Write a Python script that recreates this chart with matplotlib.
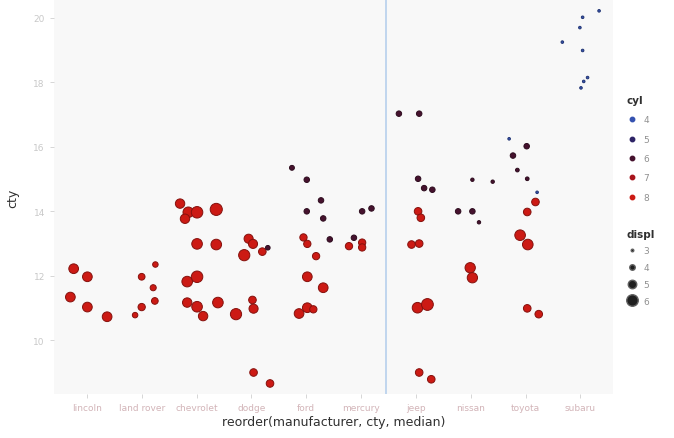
import numpy as np
import matplotlib
matplotlib.use('Agg')
import matplotlib.pyplot as plt
from matplotlib.colors import LinearSegmentedColormap, to_rgb
from matplotlib.lines import Line2D

# Manufacturers, ordered by median cty
makers = ['lincoln', 'land rover', 'chevrolet', 'dodge', 'ford',
          'mercury', 'jeep', 'nissan', 'toyota', 'subaru']

# Points: manufacturer, jitter offset, cty, cyl, displ
maker = (['lincoln'] * 5 + ['land rover'] * 6 + ['chevrolet'] * 13
         + ['dodge'] * 10 + ['ford'] * 14 + ['mercury'] * 6 + ['jeep'] * 13
         + ['nissan'] * 7 + ['toyota'] * 12 + ['subaru'] * 8)
jit = [-0.24, 0.01, -0.30, 0.01, 0.37,
       0.25, 0.00, 0.21, 0.24, 0.00, -0.12,
       -0.30, -0.15, -0.21, 0.01, 0.36, 0.01, 0.36, -0.17, 0.01, -0.17, 0.01, 0.12, 0.39,
       -0.28, -0.05, 0.03, -0.13, 0.20, 0.30, 0.02, 0.04, 0.04, 0.34,
       -0.26, 0.01, 0.27, 0.01, 0.31, 0.43, -0.05, 0.02, 0.18, 0.02, 0.31, -0.13, 0.02, 0.13,
       0.02, 0.19, -0.13, -0.22, 0.02, 0.02,
       -0.31, 0.06, 0.04, 0.15, 0.30, 0.04, 0.09, -0.08, 0.06, 0.03, 0.21, 0.06, 0.28,
       0.03, 0.40, -0.23, 0.03, 0.15, -0.01, 0.03,
       -0.30, 0.02, -0.23, -0.15, 0.03, 0.21, 0.18, 0.03, -0.10, 0.04, 0.03, 0.24,
       0.34, 0.04, -0.01, -0.33, 0.04, 0.13, 0.06, 0.01]
cty = [12.22, 11.97, 11.34, 11.03, 10.73,
       12.35, 11.97, 11.63, 11.22, 11.03, 10.78,
       14.24, 13.97, 13.77, 13.97, 14.06, 12.99, 12.97, 11.82, 11.97, 11.17, 11.04, 10.75, 11.17,
       10.81, 13.15, 12.99, 12.64, 12.75, 12.87, 11.25, 10.98, 9.00, 8.66,
       15.35, 14.98, 14.34, 14.00, 13.78, 13.13, 13.19, 12.99, 12.61, 11.97, 11.63, 10.83, 11.01, 10.96,
       14.00, 14.09, 13.18, 12.92, 13.03, 12.88,
       17.03, 17.03, 15.01, 14.72, 14.67, 14.00, 13.80, 12.97, 13.00, 11.01, 11.11, 9.00, 8.79,
       14.98, 14.92, 14.00, 14.00, 13.66, 12.25, 11.94,
       16.25, 16.02, 15.73, 15.28, 15.01, 14.59, 14.29, 13.98, 13.26, 12.97, 10.99, 10.81,
       20.22, 20.02, 19.70, 19.25, 18.99, 18.15, 18.03, 17.83]
cyl = [8] * 5 + [8] * 6 + [8] * 13 \
    + [8, 8, 8, 8, 8, 6, 8, 8, 8, 8] \
    + [6, 6, 6, 6, 6, 6, 8, 8, 8, 8, 8, 8, 8, 8] \
    + [6, 6, 6, 8, 8, 8] \
    + [6, 6, 6, 6, 6, 8, 8, 8, 8, 8, 8, 8, 8] \
    + [6, 6, 6, 6, 6, 8, 8] \
    + [4, 6, 6, 6, 6, 4, 8, 8, 8, 8, 8, 8] \
    + [4] * 8
displ = [5.4] * 5 \
    + [4.0, 4.4, 4.2, 4.4, 4.6, 4.0] \
    + [5.3, 5.7, 5.3, 6.0, 6.2, 5.7, 5.7, 5.7, 6.0, 5.3, 5.7, 5.3, 5.7] \
    + [5.9, 5.2, 5.2, 5.9, 4.7, 3.7, 4.7, 5.2, 4.7, 4.7] \
    + [3.8, 4.0, 4.0, 4.0, 4.0, 4.0, 4.6, 4.6, 4.6, 5.4, 5.4, 5.4, 5.4, 4.6] \
    + [4.0, 4.0, 4.0, 4.6, 4.6, 4.6] \
    + [4.0, 4.0, 4.0, 4.0, 4.0, 4.7, 4.7, 4.7, 4.7, 5.7, 6.1, 4.7, 4.7] \
    + [3.3, 3.3, 4.0, 4.0, 3.3, 5.6, 5.6] \
    + [2.7, 4.0, 4.0, 3.4, 3.4, 2.7, 4.7, 4.7, 5.7, 5.7, 4.7, 4.7] \
    + [2.5] * 8

split_at = 5.45  # vertical reference line between mercury and jeep

cyl_levels = [4, 5, 6, 7, 8]
displ_levels = [3, 4, 5, 6]

cmap = LinearSegmentedColormap.from_list(
    'cyl', [(0, '#3552b0'), (0.25, '#2e2466'), (0.5, '#45122e'),
            (0.75, '#a8141c'), (1, '#cc1a14')])


def cyl_color(c):
    return cmap((c - 4) / 4)


def marker_area(d):
    px = 2.5 + 3.0 * (d - 3)
    return (max(px, 2.6) * 0.72) ** 2


xpos = np.array([makers.index(m) for m in maker]) + np.array(jit)
faces = [cyl_color(c) for c in cyl]
edges = [tuple(v * 0.65 for v in to_rgb(f)) for f in faces]
sizes = [marker_area(d) for d in displ]

fig = plt.figure(figsize=(6.74, 4.39), dpi=100)
ax = fig.add_axes([0.08, 0.10, 0.83, 0.898])
ax.set_facecolor('#f8f8f8')

ax.axvline(split_at, color='#bcd3ee', lw=1.3, zorder=1)
ax.scatter(xpos, cty, s=sizes, c=faces, edgecolors=edges, linewidths=0.7, zorder=3)

ax.set_xlim(-0.6, len(makers) - 0.4)
ax.set_ylim(8.33, 20.56)
ax.set_xticks(range(len(makers)))
ax.set_xticklabels(makers, fontsize=6.5, color='#d2b4b8')
ax.set_yticks([10, 12, 14, 16, 18, 20])
ax.set_yticklabels(['10', '12', '14', '16', '18', '20'], fontsize=6.5, color='#c8c8c8')
ax.tick_params(axis='both', length=3, color='#d0d0d0', width=0.6)
ax.grid(False)
for sp in ax.spines.values():
    sp.set_visible(False)

ax.set_xlabel('reorder(manufacturer, cty, median)', fontsize=9, color='#303030', labelpad=2)
ax.set_ylabel('cty', fontsize=9, color='#303030', labelpad=10)

# legends
cyl_handles = [Line2D([], [], ls='none', marker='o', markersize=3.2,
                      markerfacecolor=cyl_color(c), markeredgecolor=cyl_color(c))
               for c in cyl_levels]
leg1 = fig.legend(cyl_handles, [str(c) for c in cyl_levels], title='cyl',
                  loc='upper left', bbox_to_anchor=(0.918, 0.80), frameon=False,
                  fontsize=6.5, title_fontsize=7.5, labelspacing=1.15,
                  handletextpad=0.6, handlelength=1.2, alignment='left')
leg1.get_title().set_fontweight('bold')
leg1.get_title().set_color('#303030')
for t in leg1.get_texts():
    t.set_color('#909090')

displ_handles = [Line2D([], [], ls='none', marker='o',
                        markersize=np.sqrt(marker_area(d)),
                        markerfacecolor='#202020', markeredgecolor='#606060')
                 for d in displ_levels]
leg2 = fig.legend(displ_handles, [str(d) for d in displ_levels], title='displ',
                  loc='upper left', bbox_to_anchor=(0.918, 0.495), frameon=False,
                  fontsize=6.5, title_fontsize=7.5, labelspacing=0.85,
                  handletextpad=0.6, handlelength=1.2, alignment='left')
leg2.get_title().set_fontweight('bold')
leg2.get_title().set_color('#303030')
for t in leg2.get_texts():
    t.set_color('#909090')

fig.savefig('out.png', dpi=100, facecolor='white')
